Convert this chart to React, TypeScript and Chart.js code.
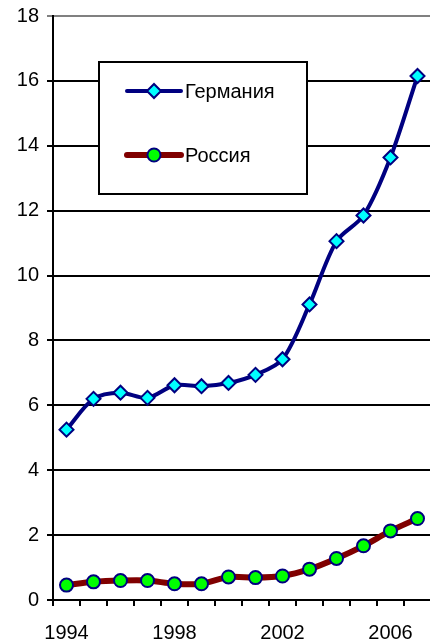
import React, { useEffect, useRef } from "react";
import { Chart, registerables } from "chart.js";

Chart.register(...registerables);

const years = ["1994", "1995", "1996", "1997", "1998", "1999", "2000", "2001", "2002", "2003", "2004", "2005", "2006", "2007"];
const germany = [5.25, 6.2, 6.39, 6.23, 6.62, 6.59, 6.69, 6.94, 7.42, 9.11, 11.06, 11.85, 13.64, 16.15];
const russia = [0.46, 0.56, 0.6, 0.6, 0.5, 0.5, 0.71, 0.69, 0.74, 0.95, 1.28, 1.67, 2.13, 2.51];
const seriesNames = ["Германия", "Россия"];
const yMin = 0;
const yMax = 18;
const yStep = 2;
const xLabelEvery = 4;

const FONT = "'Liberation Sans', Arial, sans-serif";

const legendPlugin = {
  id: "boxLegend",
  afterDraw(chart: any) {
    const ctx = chart.ctx;
    const bx = 99, by = 62, bw = 208, bh = 132;
    ctx.save();
    ctx.fillStyle = "#ffffff";
    ctx.fillRect(bx, by, bw, bh);
    ctx.strokeStyle = "#000000";
    ctx.lineWidth = 2;
    ctx.strokeRect(bx, by, bw, bh);
    chart.data.datasets.forEach((ds: any, i: number) => {
      const y = 91 + i * 64;
      ctx.beginPath();
      ctx.strokeStyle = ds.borderColor;
      ctx.lineWidth = ds.borderWidth;
      ctx.lineCap = "round";
      ctx.moveTo(127, y);
      ctx.lineTo(181, y);
      ctx.stroke();
      const cx = 154;
      const r = ds.pointRadius;
      ctx.beginPath();
      if (ds.pointStyle === "rectRot") {
        ctx.moveTo(cx - r, y);
        ctx.lineTo(cx, y - r);
        ctx.lineTo(cx + r, y);
        ctx.lineTo(cx, y + r);
        ctx.closePath();
      } else {
        ctx.arc(cx, y, r, 0, Math.PI * 2);
      }
      ctx.fillStyle = ds.pointBackgroundColor;
      ctx.fill();
      ctx.lineWidth = ds.pointBorderWidth;
      ctx.strokeStyle = ds.pointBorderColor;
      ctx.stroke();
      ctx.fillStyle = "#000000";
      ctx.font = `20px ${FONT}`;
      ctx.textAlign = "left";
      ctx.textBaseline = "middle";
      ctx.fillText(ds.label, 185, y + 1);
    });
    ctx.restore();
  },
};

export default function App() {
  const ref = useRef<HTMLCanvasElement | null>(null);
  useEffect(() => {
    if (!ref.current) return;
    const chart = new Chart(ref.current, {
      type: "line",
      data: {
        labels: years,
        datasets: [
          {
            label: seriesNames[0],
            data: germany,
            borderColor: "#000080",
            borderWidth: 4,
            tension: 0.3,
            pointStyle: "rectRot",
            pointRadius: 7,
            pointBackgroundColor: "#00FFFF",
            pointBorderColor: "#000080",
            pointBorderWidth: 2,
          },
          {
            label: seriesNames[1],
            data: russia,
            borderColor: "#800000",
            borderWidth: 6,
            tension: 0.3,
            pointStyle: "circle",
            pointRadius: 6.5,
            pointBackgroundColor: "#00FF00",
            pointBorderColor: "#000080",
            pointBorderWidth: 2,
          },
        ],
      } as any,
      options: {
        animation: false,
        responsive: false,
        maintainAspectRatio: false,
        layout: { padding: { top: 16, right: 2, left: 0, bottom: 0 } },
        plugins: { legend: { display: false }, tooltip: { enabled: false } },
        scales: {
          x: {
            offset: true,
            grid: {
              display: true,
              offset: true,
              drawOnChartArea: false,
              drawTicks: true,
              tickLength: 6,
              color: "#000000",
              lineWidth: 2,
            },
            border: { color: "#000000", width: 2 },
            ticks: {
              autoSkip: false,
              maxRotation: 0,
              minRotation: 0,
              padding: 15,
              color: "#000000",
              font: { family: FONT, size: 20 },
              callback: (_v: any, i: number) => (i % xLabelEvery === 0 ? years[i] : ""),
            },
            afterFit: (s: any) => {
              s.height = 43;
              s.paddingLeft = 0;
              s.paddingRight = 0;
            },
          },
          y: {
            min: yMin,
            max: yMax,
            ticks: {
              stepSize: yStep,
              padding: 8,
              color: "#000000",
              font: { family: FONT, size: 20 },
            },
            grid: {
              color: (c: any) => (c.tick && c.tick.value === yMax ? "#808080" : "#000000"),
              lineWidth: 2,
              tickLength: 6,
            },
            border: { color: "#000000", width: 2 },
            afterFit: (s: any) => {
              s.width = 53;
              s.paddingTop = 0;
              s.paddingBottom = 0;
            },
          },
        },
      } as any,
      plugins: [legendPlugin],
    });
    return () => chart.destroy();
  }, []);
  return (
    <div style={{ position: "fixed", left: 0, top: 0, width: 440, height: 643, background: "#fff" }}>
      <canvas ref={ref} width={440} height={643} style={{ display: "block", width: 440, height: 643 }} />
    </div>
  );
}
